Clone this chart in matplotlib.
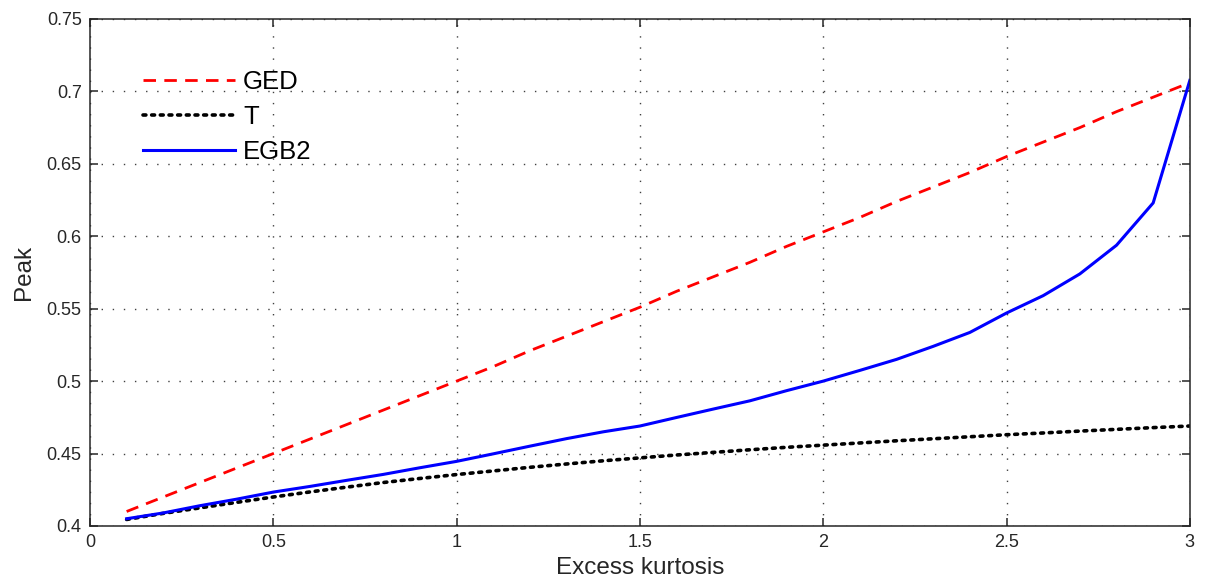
import numpy as np
import matplotlib.pyplot as plt

plt.rcParams['font.family'] = ['Liberation Sans', 'DejaVu Sans']

# peak of the standardised density vs excess kurtosis
kurt = [0.1, 0.2, 0.3, 0.4, 0.5, 0.6, 0.7, 0.8, 0.9, 1.0,
        1.1, 1.2, 1.3, 1.4, 1.5, 1.6, 1.7, 1.8, 1.9, 2.0,
        2.1, 2.2, 2.3, 2.4, 2.5, 2.6, 2.7, 2.8, 2.9, 3.0]

peak_ged = [0.410, 0.420, 0.430, 0.440, 0.450, 0.460, 0.470, 0.480, 0.490, 0.500,
            0.510, 0.521, 0.531, 0.541, 0.551, 0.562, 0.572, 0.582, 0.593, 0.603,
            0.613, 0.624, 0.634, 0.644, 0.655, 0.665, 0.675, 0.686, 0.696, 0.706]

peak_t = [0.4045, 0.4087, 0.4125, 0.4163, 0.4200, 0.4235, 0.4268, 0.4300, 0.4328, 0.4355,
          0.4380, 0.4405, 0.4428, 0.4450, 0.4470, 0.4490, 0.4508, 0.4526, 0.4543, 0.4558,
          0.4573, 0.4588, 0.4602, 0.4616, 0.4630, 0.4642, 0.4655, 0.4667, 0.4679, 0.4690]

peak_egb2 = [0.405, 0.409, 0.414, 0.4185, 0.4234, 0.4273, 0.4315, 0.4356, 0.4402, 0.4446,
             0.4498, 0.4551, 0.4603, 0.4650, 0.4690, 0.4749, 0.4807, 0.4864, 0.4934, 0.5000,
             0.5074, 0.5150, 0.5240, 0.5336, 0.5470, 0.5590, 0.5740, 0.5938, 0.6230, 0.7076]

xticks = [0, 0.5, 1, 1.5, 2, 2.5, 3]
xticklabels = ['0', '0.5', '1', '1.5', '2', '2.5', '3']
yticks = [0.4, 0.45, 0.5, 0.55, 0.6, 0.65, 0.7, 0.75]
yticklabels = ['0.4', '0.45', '0.5', '0.55', '0.6', '0.65', '0.7', '0.75']

fig = plt.figure(figsize=(12.06, 5.81), dpi=100)
ax = fig.add_axes([0.0746, 0.0947, 0.912, 0.8727])

ax.plot(kurt, peak_ged, color='red', lw=2, linestyle=(0, (4.5, 3)), label='GED')
ax.plot(kurt, peak_t, color='black', lw=2.6, linestyle=(0, (0.8, 1.6)),
        dash_capstyle='round', label='T')
ax.plot(kurt, peak_egb2, color='blue', lw=2.2, label='EGB2')

ax.set_xlim(0, 3)
ax.set_ylim(0.4, 0.75)
ax.set_xticks(xticks)
ax.set_xticklabels(xticklabels)
ax.set_yticks(yticks)
ax.set_yticklabels(yticklabels)
ax.tick_params(direction='in', length=6, width=1.1, top=True, right=True,
               labelsize=13, pad=6, colors='#262626')
for s in ax.spines.values():
    s.set_color('#262626')
    s.set_linewidth(1.1)

# matlab style dotted grid
ax.grid(True, color='#404040', lw=1.0, linestyle=(0, (1, 7)))

ax.set_xlabel('Excess kurtosis', fontsize=17.5, labelpad=4, color='#262626')
ax.set_ylabel('Peak', fontsize=17.5, labelpad=8, color='#262626')

ax.legend(loc='upper left', bbox_to_anchor=(0.048, 0.899), frameon=False,
          fontsize=18.5, handlelength=3.6, handletextpad=0.3, labelspacing=0.42,
          borderpad=0, borderaxespad=0)

fig.savefig('out.png', dpi=100)
